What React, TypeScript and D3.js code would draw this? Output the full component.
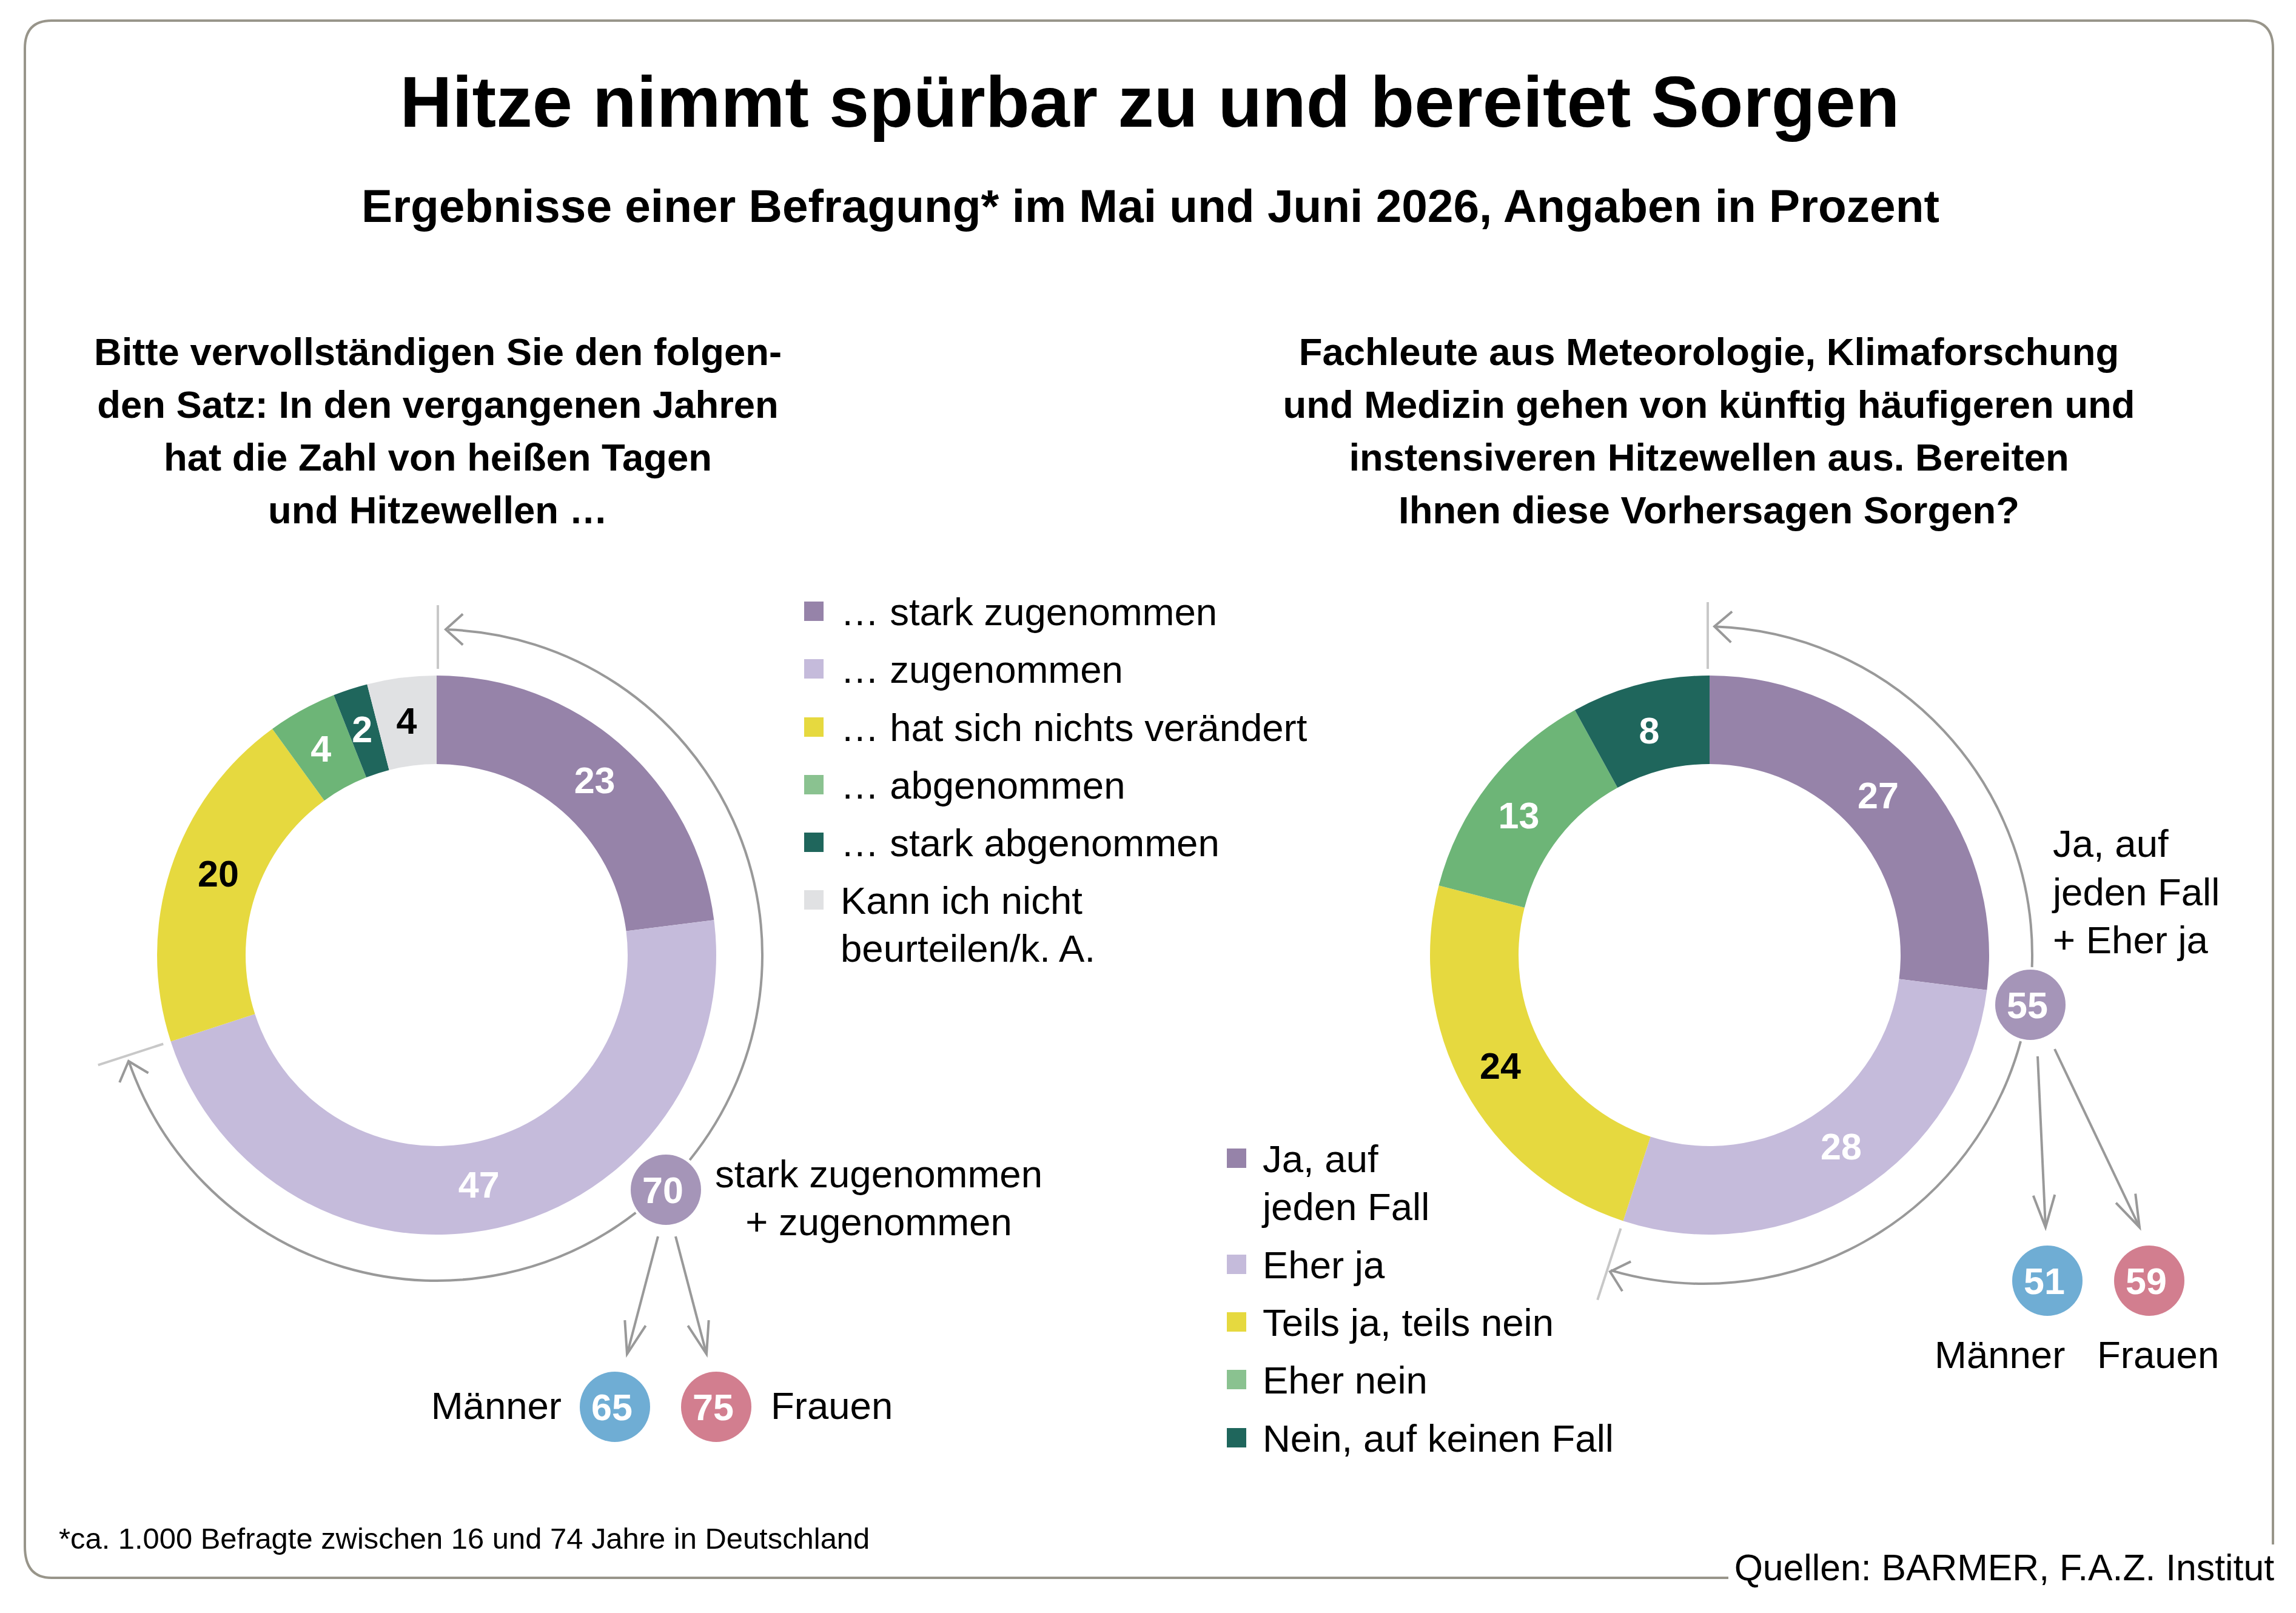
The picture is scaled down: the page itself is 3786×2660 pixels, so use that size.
import { arc, path, pie } from "d3";

const WIDTH = 3786;
const HEIGHT = 2660;
const FONT = "'Liberation Sans', Arial, sans-serif";
const TEXT_SIZE = 63.5;
const VALUE_SIZE = 61;

const title = "Hitze nimmt spürbar zu und bereitet Sorgen";
const subtitle = "Ergebnisse einer Befragung* im Mai und Juni 2026, Angaben in Prozent";
const footnote = "*ca. 1.000 Befragte zwischen 16 und 74 Jahre in Deutschland";
const source = "Quellen: BARMER, F.A.Z. Institut";

const leftQuestion = [
  "Bitte vervollständigen Sie den folgen-",
  "den Satz: In den vergangenen Jahren",
  "hat die Zahl von heißen Tagen",
  "und Hitzewellen …",
];
const rightQuestion = [
  "Fachleute aus Meteorologie, Klimaforschung",
  "und Medizin gehen von künftig häufigeren und",
  "instensiveren Hitzewellen aus. Bereiten",
  "Ihnen diese Vorhersagen Sorgen?",
];

const leftValues = [23, 47, 20, 4, 2, 4];
const rightValues = [27, 28, 24, 13, 8];

const leftLegend = [
  ["… stark zugenommen"],
  ["… zugenommen"],
  ["… hat sich nichts verändert"],
  ["… abgenommen"],
  ["… stark abgenommen"],
  ["Kann ich nicht", "beurteilen/k. A."],
];
const rightLegend = [
  ["Ja, auf", "jeden Fall"],
  ["Eher ja"],
  ["Teils ja, teils nein"],
  ["Eher nein"],
  ["Nein, auf keinen Fall"],
];

const ringColors = ["#9683a9", "#c5bbdb", "#e6d93f", "#6db577", "#1f665c", "#e0e1e3"];
const legendColors = ["#9683a9", "#c5bbdb", "#e6d93f", "#8ac290", "#1f665c", "#e0e1e3"];
const darkLabelSlices = [2, 5];

const leftSum = 70;
const leftMen = 65;
const leftWomen = 75;
const rightSum = 55;
const rightMen = 51;
const rightWomen = 59;

const GREY = "#999999";
const TICK_GREY = "#c8c8c8";
const FRAME = "#98958a";
const BLUE = "#6fadd4";
const PINK = "#d27e8f";
const SUM_PURPLE = "#a595b8";

const rad = (deg: number) => (deg * Math.PI) / 180;

function arcPath(r: number, fromDeg: number, toDeg: number) {
  const p = path();
  p.arc(0, 0, r, rad(fromDeg - 90), rad(toDeg - 90));
  return p.toString();
}

// open arrow head, dir = direction of travel in degrees (0 = right, 90 = down)
function headPath(x: number, y: number, dir: number, len: number, spread: number) {
  const p = path();
  const a = rad(dir + 180 - spread);
  const b = rad(dir + 180 + spread);
  p.moveTo(x + len * Math.cos(a), y + len * Math.sin(a));
  p.lineTo(x, y);
  p.lineTo(x + len * Math.cos(b), y + len * Math.sin(b));
  return p.toString();
}

function Donut({ cx, cy, values, nudges }: { cx: number; cy: number; values: number[]; nudges: number[][] }) {
  const slices = pie<number>().sort(null)(values);
  const ring = arc<any>().innerRadius(315).outerRadius(461);
  return (
    <g transform={`translate(${cx},${cy})`}>
      {slices.map((s, i) => (
        <path key={i} d={ring(s) || ""} fill={ringColors[i]} />
      ))}
      {slices.map((s, i) => {
        const [x, y] = ring.centroid(s);
        return (
          <text
            key={i}
            x={x + nudges[i][0]}
            y={y + nudges[i][1]}
            dy="0.36em"
            textAnchor="middle"
            fontWeight="bold"
            fontSize={VALUE_SIZE}
            fill={darkLabelSlices.includes(i) ? "#000" : "#fff"}
          >
            {values[i]}
          </text>
        );
      })}
    </g>
  );
}

function Bubble({ x, y, value, color }: { x: number; y: number; value: number; color: string }) {
  return (
    <g>
      <circle cx={x} cy={y} r={58} fill={color} />
      <text x={x - 5} y={y} dy="0.36em" textAnchor="middle" fontWeight="bold" fontSize={VALUE_SIZE} fill="#fff">
        {value}
      </text>
    </g>
  );
}

function Legend({ x, textX, ys, rows, colors }: { x: number; textX: number; ys: number[]; rows: string[][]; colors: string[] }) {
  return (
    <g>
      {rows.map((lines, i) => (
        <g key={i}>
          <rect x={x} y={ys[i] - 39} width={32} height={32} fill={colors[i]} />
          {lines.map((line, j) => (
            <text key={j} x={textX} y={ys[i] + j * 79} fontSize={TEXT_SIZE}>
              {line}
            </text>
          ))}
        </g>
      ))}
    </g>
  );
}

function Question({ x, lines }: { x: number; lines: string[] }) {
  return (
    <g>
      {lines.map((line, i) => (
        <text key={i} x={x} y={602 + i * 87} textAnchor="middle" fontWeight="bold" fontSize={63.4}>
          {line}
        </text>
      ))}
    </g>
  );
}

function Arrow({ x1, y1, x2, y2 }: { x1: number; y1: number; x2: number; y2: number }) {
  const dir = (Math.atan2(y2 - y1, x2 - x1) * 180) / Math.PI;
  return (
    <g fill="none" stroke={GREY} strokeWidth={4}>
      <line x1={x1} y1={y1} x2={x2} y2={y2} />
      <path d={headPath(x2, y2, dir, 56, 18.5)} />
    </g>
  );
}

function Frame() {
  const p = path();
  p.moveTo(2850, 2602);
  p.lineTo(85, 2602);
  p.quadraticCurveTo(41, 2602, 41, 2550);
  p.lineTo(41, 80);
  p.quadraticCurveTo(41, 34, 85, 34);
  p.lineTo(3705, 34);
  p.quadraticCurveTo(3748, 34, 3748, 80);
  p.lineTo(3748, 2547);
  return <path d={p.toString()} fill="none" stroke={FRAME} strokeWidth={4} />;
}

export default function App() {
  return (
    <svg
      width={WIDTH}
      height={HEIGHT}
      viewBox={`0 0 ${WIDTH} ${HEIGHT}`}
      style={{ position: "absolute", left: 0, top: 0, background: "#fff" }}
      fontFamily={FONT}
      fill="#000"
    >
      <Frame />

      <text x={1896} y={209} textAnchor="middle" fontWeight="bold" fontSize={119}>
        {title}
      </text>
      <text x={1897} y={366} textAnchor="middle" fontWeight="bold" fontSize={76.6}>
        {subtitle}
      </text>

      <Question x={722} lines={leftQuestion} />
      <Question x={2818} lines={rightQuestion} />

      {/* left chart */}
      <Donut
        cx={720}
        cy={1575}
        values={leftValues}
        nudges={[[4, 2], [-15, -1], [9, -15], [-4, -1], [-3, -4], [-1, -2]]}
      />
      <g transform="translate(720,1575)" fill="none">
        <path d={`M0,-472V-577`} stroke={TICK_GREY} strokeWidth={4} transform="translate(2,0)" />
        <path d="M0,-474V-587" stroke={TICK_GREY} strokeWidth={4} transform="rotate(252)" />
        <path d={arcPath(537, 2, 129)} stroke={GREY} strokeWidth={4} />
        <path d={arcPath(537, 142.3, 251)} stroke={GREY} strokeWidth={4} />
      </g>
      <path d={headPath(735, 1038, 180, 38, 42)} fill="none" stroke={GREY} strokeWidth={4} />
      <path d={headPath(212, 1750, 252, 38, 41)} fill="none" stroke={GREY} strokeWidth={4} />
      <Bubble x={1098} y={1962} value={leftSum} color={SUM_PURPLE} />
      <Arrow x1={1085} y1={2039} x2={1034} y2={2233} />
      <Arrow x1={1114} y1={2039} x2={1165} y2={2233} />
      <Bubble x={1014} y={2320} value={leftMen} color={BLUE} />
      <Bubble x={1181} y={2320} value={leftWomen} color={PINK} />
      <text x={1449} y={1958} textAnchor="middle" fontSize={TEXT_SIZE}>stark zugenommen</text>
      <text x={1449} y={2037} textAnchor="middle" fontSize={TEXT_SIZE}>+ zugenommen</text>
      <text x={926} y={2340} textAnchor="end" fontSize={TEXT_SIZE}>Männer</text>
      <text x={1271} y={2340} fontSize={TEXT_SIZE}>Frauen</text>
      <Legend
        x={1326}
        textX={1386}
        ys={[1031, 1126, 1222, 1317, 1412, 1507]}
        rows={leftLegend}
        colors={legendColors}
      />

      {/* right chart */}
      <Donut
        cx={2819}
        cy={1575}
        values={rightValues}
        nudges={[[-13, -7], [9, -13], [-5, -5], [-8, 7], [-3, 5]]}
      />
      <g transform="translate(2819,1575)" fill="none">
        <path d="M0,-472V-582" stroke={TICK_GREY} strokeWidth={4} transform="translate(-3,0)" />
        <path d="M0,-474V-598" stroke={TICK_GREY} strokeWidth={4} transform="rotate(198)" />
      </g>
      <g transform="translate(2809,1575)" fill="none" stroke={GREY} strokeWidth={4}>
        <path d={arcPath(542, 1.9, 92.1)} />
        <path d={arcPath(542, 105.2, 196.4)} />
      </g>
      <path d={headPath(2827, 1033, 182, 38, 42)} fill="none" stroke={GREY} strokeWidth={4} />
      <path d={headPath(2655, 2097, 196, 38, 42)} fill="none" stroke={GREY} strokeWidth={4} />
      <Bubble x={3348} y={1657} value={rightSum} color={SUM_PURPLE} />
      <Arrow x1={3360} y1={1742} x2={3373} y2={2024} />
      <Arrow x1={3388} y1={1730} x2={3528} y2={2024} />
      <Bubble x={3376} y={2112} value={rightMen} color={BLUE} />
      <Bubble x={3544} y={2112} value={rightWomen} color={PINK} />
      <text x={3385} y={1413} fontSize={TEXT_SIZE}>Ja, auf</text>
      <text x={3385} y={1493} fontSize={TEXT_SIZE}>jeden Fall</text>
      <text x={3385} y={1572} fontSize={TEXT_SIZE}>+ Eher ja</text>
      <text x={3190} y={2256} fontSize={TEXT_SIZE}>Männer</text>
      <text x={3458} y={2256} fontSize={TEXT_SIZE}>Frauen</text>
      <Legend
        x={2023}
        textX={2082}
        ys={[1933, 2108, 2203, 2298, 2394]}
        rows={rightLegend}
        colors={legendColors}
      />

      <text x={97} y={2554} fontSize={48.9}>{footnote}</text>
      <text x={3750} y={2606} textAnchor="end" fontSize={60.7}>{source}</text>
    </svg>
  );
}
